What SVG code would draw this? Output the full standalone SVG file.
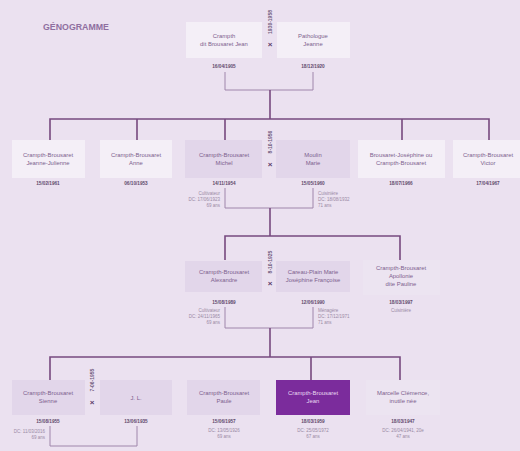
<svg xmlns="http://www.w3.org/2000/svg" width="520" height="451" viewBox="0 0 520 451">
<style>
.bg{fill:#ebe1f0}
.b1{fill:#f4eff7}
.b2{fill:#e2d6ea}
.b3{fill:#ece4f1}
.bd{fill:#7b2c9c}
text{font-family:"Liberation Sans",Arial,sans-serif}
.t{font-size:5.9px;fill:#7d5f8e;text-anchor:middle}
.tw{font-size:5.9px;fill:#e9d9f2;text-anchor:middle}
.d{font-size:4.7px;fill:#5f4a6c;text-anchor:middle;font-weight:bold}
.n{font-size:4.5px;fill:#9a8aa4}
.nr{text-anchor:end}
.nc{text-anchor:middle}
.x{font-size:8px;fill:#5a3c68;text-anchor:middle;font-weight:bold}
.v{font-size:5px;fill:#6f5a7c;text-anchor:middle;font-weight:bold}
.title{font-size:8.8px;fill:#8f6fa0;font-weight:bold}
.m{stroke:#77497f;stroke-width:1.6;fill:none}
.k{stroke:#9f86ab;stroke-width:1;fill:none}
</style>
<rect class="bg" width="520" height="451"/>
<text class="title" x="43" y="30">GÉNOGRAMME</text>

<g id="connectors">
<path class="k" d="M225,72V90H313V72"/>
<path class="m" d="M270,90V119"/>
<path class="m" d="M50,140V119H489V140M137,119V140M225,119V140M402,119V140"/>
<path class="k" d="M225,188V208H313V188"/>
<path class="m" d="M270,208V236"/>
<path class="m" d="M225,260V236H400V260"/>
<path class="k" d="M225,307V328H313V307"/>
<path class="m" d="M270,328V357"/>
<path class="m" d="M50,380V357H400V380M311,357V380"/>
<path class="k" d="M50,426V446H137V426"/>
</g>

<g id="couple-top">
<text class="v" transform="translate(272,22) rotate(-90)">1930-1958</text>
<text class="x" x="270" y="47">×</text>
</g>
<g id="n-jean-sr">
<rect class="b1" x="186" y="22" width="76" height="36"/>
<text class="t" x="224" y="38">Crampth</text>
<text class="t" x="224" y="46">dit Brousaret Jean</text>
<text class="d" x="224" y="68">16/04/1905</text>
</g>
<g id="n-jeanne-sr">
<rect class="b1" x="277" y="22" width="73" height="36"/>
<text class="t" x="313" y="38">Pathologue</text>
<text class="t" x="313" y="46">Jeanne</text>
<text class="d" x="313" y="68">18/12/1920</text>
</g>

<g id="n-jeanne-julienne">
<rect class="b1" x="12" y="140" width="73" height="38"/>
<text class="t" x="48" y="157">Crampth-Brousaret</text>
<text class="t" x="48" y="165">Jeanne-Julienne</text>
<text class="d" x="48" y="185">15/02/1961</text>
</g>
<g id="n-anne">
<rect class="b1" x="100" y="140" width="72" height="38"/>
<text class="t" x="136" y="157">Crampth-Brousaret</text>
<text class="t" x="136" y="165">Anne</text>
<text class="d" x="136" y="185">06/10/1953</text>
</g>
<g id="n-michel">
<rect class="b2" x="185" y="140" width="77" height="38"/>
<text class="t" x="224" y="157">Crampth-Brousaret</text>
<text class="t" x="224" y="165">Michel</text>
<text class="d" x="224" y="185">14/11/1954</text>
<text class="n nr" x="220" y="195">Cultivateur</text>
<text class="n nr" x="220" y="201">DC: 17/06/1923</text>
<text class="n nr" x="220" y="207">69 ans</text>
</g>
<g id="couple-2">
<text class="v" transform="translate(272,142) rotate(-90)">8-10-1956</text>
<text class="x" x="270" y="167">×</text>
</g>
<g id="n-marie">
<rect class="b2" x="276" y="140" width="74" height="38"/>
<text class="t" x="313" y="157">Moulin</text>
<text class="t" x="313" y="165">Marie</text>
<text class="d" x="313" y="185">15/05/1960</text>
<text class="n" x="318" y="195">Cuisinière</text>
<text class="n" x="318" y="201">DC: 18/08/1932</text>
<text class="n" x="318" y="207">71 ans</text>
</g>
<g id="n-josephine">
<rect class="b1" x="358" y="140" width="87" height="38"/>
<text class="t" x="401" y="157">Brousaret-Joséphine ou</text>
<text class="t" x="401" y="165">Crampth-Brousaret</text>
<text class="d" x="401" y="185">18/07/1966</text>
</g>
<g id="n-victor">
<rect class="b1" x="453" y="140" width="67" height="38"/>
<text class="t" x="488" y="157">Crampth-Brousaret</text>
<text class="t" x="488" y="165">Victor</text>
<text class="d" x="488" y="185">17/04/1967</text>
</g>

<g id="n-alexandre">
<rect class="b2" x="185" y="261" width="77" height="31"/>
<text class="t" x="224" y="274">Crampth-Brousaret</text>
<text class="t" x="224" y="282">Alexandre</text>
<text class="d" x="224" y="304">15/08/1989</text>
<text class="n nr" x="220" y="312">Cultivateur</text>
<text class="n nr" x="220" y="318">DC: 24/11/1965</text>
<text class="n nr" x="220" y="324">69 ans</text>
</g>
<g id="couple-3">
<text class="v" transform="translate(272,262) rotate(-90)">8-10-1925</text>
<text class="x" x="270" y="286">×</text>
</g>
<g id="n-careau">
<rect class="b2" x="276" y="261" width="74" height="31"/>
<text class="t" x="313" y="274">Careau-Plain Marie</text>
<text class="t" x="313" y="282">Joséphine Françoise</text>
<text class="d" x="313" y="304">12/06/1990</text>
<text class="n" x="318" y="312">Ménagère</text>
<text class="n" x="318" y="318">DC: 17/12/1971</text>
<text class="n" x="318" y="324">71 ans</text>
</g>
<g id="n-apollonie">
<rect class="b3" x="363" y="260" width="77" height="35"/>
<text class="t" x="401" y="270">Crampth-Brousaret</text>
<text class="t" x="401" y="278">Apollonie</text>
<text class="t" x="401" y="286">dite Pauline</text>
<text class="d" x="401" y="304">18/03/1997</text>
<text class="n nc" x="401" y="312">Cuisinière</text>
</g>

<g id="n-sienne">
<rect class="b2" x="12" y="380" width="73" height="35"/>
<text class="t" x="48" y="395">Crampth-Brousaret</text>
<text class="t" x="48" y="403">Sienne</text>
<text class="d" x="48" y="423">15/08/1955</text>
<text class="n nr" x="45" y="433">DC: 11/03/2016</text>
<text class="n nr" x="45" y="439">69 ans</text>
</g>
<g id="couple-4">
<text class="v" transform="translate(94,380) rotate(-90)">7-06-1955</text>
<text class="x" x="92" y="405">×</text>
</g>
<g id="n-jl">
<rect class="b2" x="100" y="380" width="72" height="35"/>
<text class="t" x="136" y="400">J. L.</text>
<text class="d" x="136" y="423">13/06/1935</text>
</g>
<g id="n-paule">
<rect class="b2" x="187" y="380" width="73" height="35"/>
<text class="t" x="224" y="395">Crampth-Brousaret</text>
<text class="t" x="224" y="403">Paule</text>
<text class="d" x="224" y="423">15/06/1957</text>
<text class="n nc" x="224" y="432">DC: 13/05/1926</text>
<text class="n nc" x="224" y="438">69 ans</text>
</g>
<g id="n-jean">
<rect class="bd" x="276" y="380" width="74" height="35"/>
<text class="tw" x="313" y="395">Crampth-Brousaret</text>
<text class="tw" x="313" y="403">Jean</text>
<text class="d" x="313" y="423">18/03/1959</text>
<text class="n nc" x="313" y="432">DC: 25/05/1972</text>
<text class="n nc" x="313" y="438">67 ans</text>
</g>
<g id="n-marcelle">
<rect class="b3" x="366" y="380" width="74" height="35"/>
<text class="t" x="403" y="395">Marcelle Clémence,</text>
<text class="t" x="403" y="403">inutile née</text>
<text class="d" x="403" y="423">18/03/1947</text>
<text class="n nc" x="403" y="432">DC: 26/04/1941, 20e</text>
<text class="n nc" x="403" y="438">47 ans</text>
</g>
</svg>
